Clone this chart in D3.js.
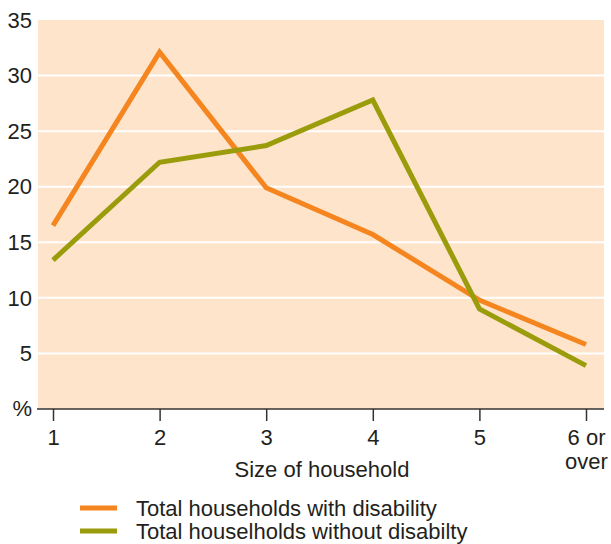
<!DOCTYPE html>
<html><head><meta charset="utf-8">
<script src="https://cdn.jsdelivr.net/npm/d3@7"></script>
<style>body{margin:0;background:#fff}svg{display:block}text{font-family:"Liberation Sans",Arial,sans-serif;fill:#231f20}</style>
</head><body><svg id="c" width="611" height="544"></svg>
<script>
const categories = ["1","2","3","4","5","6 or over"];
const withDisability = [16.5, 32.1, 19.9, 15.7, 9.8, 5.8];
const withoutDisability = [13.4, 22.2, 23.7, 27.8, 9.0, 3.9];
const yTicks = [5,10,15,20,25,30,35];
const seriesNames = ["Total households with disability","Total houselholds without disabilty"];
const colors = ["#f5861f","#9a9c0b"];

const FS = 22;
const svg = d3.select("#c");
const L=38, R=604, T=20, B=409;
const x = d3.scalePoint().domain(categories).range([53,586]);
const y = d3.scaleLinear().domain([0,35]).range([B,T]);

svg.append("rect").attr("x",L).attr("y",T).attr("width",R-L).attr("height",B-T).attr("fill","#fde4cb");
svg.append("g").selectAll("line").data(yTicks.filter(d=>d<35)).join("line")
  .attr("x1",L).attr("x2",R).attr("y1",d=>y(d)).attr("y2",d=>y(d))
  .attr("stroke","#fff").attr("stroke-width",2);

// y labels
svg.append("g").selectAll("text").data(yTicks).join("text")
  .attr("x",32).attr("y",d=>y(d)).attr("dy","0.35em").attr("text-anchor","end")
  .attr("font-size",FS).text(d=>d);
svg.append("text").attr("x",32).attr("y",y(0)).attr("dy","0.3em").attr("text-anchor","end").attr("font-size",FS).text("%");

// x axis
const xa = svg.append("g").attr("transform",`translate(0,${B})`)
  .call(d3.axisBottom(x).tickSize(12).tickSizeOuter(0).tickFormat(""));
xa.select(".domain").attr("d",`M${L-1},0H${R}`).attr("stroke","#333").attr("stroke-width",1.5);
xa.selectAll(".tick line").attr("stroke","#333").attr("stroke-width",1.5);
xa.selectAll(".tick").each(function(d){
  const g=d3.select(this);
  const parts = d==="6 or over" ? ["6 or","over"] : [d];
  parts.forEach((p,i)=>g.append("text").attr("x",0).attr("y",28+i*24).attr("dy","0.35em")
    .attr("text-anchor","middle").attr("font-size",FS).attr("fill","#231f20").style("font-family","Liberation Sans, Arial, sans-serif").text(p));
});
svg.append("text").attr("x",322).attr("y",477).attr("text-anchor","middle").attr("font-size",FS).text("Size of household");

// lines
const line = d3.line().x((d,i)=>x(categories[i])).y(d=>y(d));
[withDisability, withoutDisability].forEach((s,i)=>{
  svg.append("path").datum(s).attr("d",line).attr("fill","none")
    .attr("stroke",colors[i]).attr("stroke-width",5).attr("stroke-linejoin","miter").attr("stroke-miterlimit",2);
});

// legend
seriesNames.forEach((n,i)=>{
  const yy = 508 + i*23;
  svg.append("line").attr("x1",80).attr("x2",117).attr("y1",yy).attr("y2",yy).attr("stroke",colors[i]).attr("stroke-width",5);
  svg.append("text").attr("x",136).attr("y",yy).attr("dy","0.35em").attr("font-size",FS).text(n);
});
</script></body></html>
